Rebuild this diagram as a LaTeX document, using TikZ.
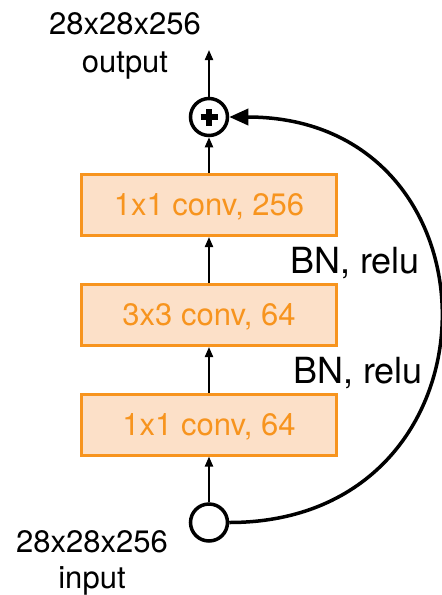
\documentclass[tikz,border=0pt]{standalone}
\usepackage{fontspec}
\setmainfont{TeX Gyre Heros}
\usetikzlibrary{arrows.meta}
\definecolor{convorange}{RGB}{247,148,30}
\definecolor{convfill}{RGB}{252,224,200}
\begin{document}
\begin{tikzpicture}[x=1pt,y=-1pt,
  convbox/.style={draw=convorange, fill=convfill, line width=3pt, minimum width=255pt, minimum height=61pt, inner sep=0pt, text=convorange, text depth=0pt, font=\fontsize{31}{37}\selectfont},
  junction/.style={circle, draw=black, line width=3.5pt, minimum size=37pt, inner sep=0pt},
  plusbar/.style={line width=5.5pt},
  flow/.style={line width=2pt, -{Triangle[length=10pt,width=8pt]}},
  skip/.style={line width=3.5pt, -{Triangle[length=19pt,width=16pt]}},
  dimtext/.style={font=\fontsize{31}{37}\selectfont, anchor=base, inner sep=0pt},
  bntext/.style={font=\fontsize{36}{42}\selectfont, anchor=base west, inner sep=0pt}
]
\useasboundingbox (0,0) rectangle (442,595);
\node[convbox] (c3) at (209,205) {1x1 conv, 256};
\node[convbox] (c2) at (209,315) {3x3 conv, 64};
\node[convbox] (c1) at (209,424.5) {1x1 conv, 64};
\node[junction] (plus) at (209,117) {};
\node[junction] (in) at (209,522.5) {};
\coordinate (outtip) at (209,50);
\draw[plusbar] ([xshift=-8.5pt]plus.center) -- ([xshift=8.5pt]plus.center);
\draw[plusbar] ([yshift=-8.5pt]plus.center) -- ([yshift=8.5pt]plus.center);
\draw[flow] (in) -- (c1);
\draw[flow] (c1) -- (c2);
\draw[flow] (c2) -- (c3);
\draw[flow] (c3) -- (plus);
\draw[flow] (plus) -- (outtip);
\draw[skip] (in.east) .. controls +(281,0) and +(281,0) .. (plus.east);
\node[dimtext] (otop) at (125,34) {28x28x256};
\node[dimtext] (olab) at (125,72) {output};
\node[dimtext] (itop) at (92,552) {28x28x256};
\node[dimtext] (ilab) at (92,588) {input};
\node[bntext] (bn1) at (290,273) {BN, relu};
\node[bntext] (bn2) at (293,383) {BN, relu};
\end{tikzpicture}
\end{document}
